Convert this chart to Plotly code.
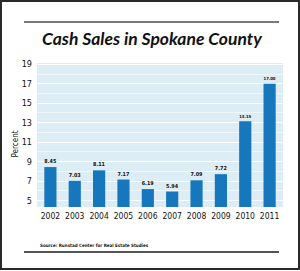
import plotly.graph_objects as go

years = ["2002", "2003", "2004", "2005", "2006", "2007", "2008", "2009", "2010", "2011"]
cash_pct = [8.45, 7.03, 8.11, 7.17, 6.19, 5.94, 7.09, 7.72, 13.15, 17.00]
y_ticks = [5, 7, 9, 11, 13, 15, 17, 19]

title = "Cash Sales in Spokane County"
source = "Source: Runstad Center for Real Estate Studies"

W, H = 300, 271
L, R, T, B = 37, 17, 63, 64
pw, ph = W - L - R, H - T - B

def px(x):
    return (x - L) / pw

def py(y):
    return (H - B - y) / ph

narrow = "DejaVu Sans Condensed, Liberation Sans Narrow, Arial Narrow, sans-serif"
ymin, ymax = 4.35, 19.13

fig = go.Figure(go.Bar(
    x=years, y=[v - ymin for v in cash_pct], base=ymin,
    marker=dict(color="#1677BD", line=dict(width=0)),
    width=0.5,
    text=[f"{v:.2f}" for v in cash_pct], textposition="outside",
    textfont=dict(family=narrow, size=6, color="#111", weight="bold"),
    cliponaxis=False,
))

fig.update_layout(
    width=W, height=H, margin=dict(l=L, r=R, t=T, b=B, pad=0),
    paper_bgcolor="white", plot_bgcolor="#DCEDF5",
    showlegend=False, bargap=0.5,
    xaxis=dict(type="category", range=[-0.55, 9.55], showgrid=False, zeroline=False,
               showline=False, ticks="", tickangle=0, ticklabelstandoff=2,
               tickfont=dict(family=narrow, size=8.5, color="#111")),
    yaxis=dict(range=[ymin, ymax], tickvals=y_ticks, ticktext=[str(t) for t in y_ticks],
               showgrid=True, gridcolor="white", gridwidth=1, zeroline=False, showline=False,
               ticks="", ticklabelstandoff=4,
               tickfont=dict(family=narrow, size=9, color="#111"),
               minor=dict(tickvals=[6, 8, 10, 12, 14, 16, 18], showgrid=True,
                          gridcolor="rgba(255,255,255,0.55)", gridwidth=1)),
    font=dict(family=narrow),
)

shapes = [
    dict(type="rect", xref="paper", yref="paper", x0=px(1), x1=px(299), y0=py(269), y1=py(1),
         line=dict(color="#2a2a2a", width=2), fillcolor="rgba(0,0,0,0)"),
    dict(type="line", xref="paper", yref="paper", x0=px(24), x1=px(279), y0=py(22), y1=py(22),
         line=dict(color="#7a7a7a", width=2)),
    dict(type="line", xref="paper", yref="paper", x0=px(24), x1=px(279), y0=py(252), y1=py(252),
         line=dict(color="#555555", width=2)),
]
fig.update_layout(shapes=shapes)

fig.add_annotation(text=title, xref="paper", yref="paper", x=px(152.5), y=py(39),
                   showarrow=False, xanchor="center", yanchor="middle",
                   font=dict(family="Lato, Open Sans, sans-serif", size=17.5, color="#111",
                             weight="bold", style="italic"))
fig.add_annotation(text="Percent", xref="paper", yref="paper", x=px(14.5), y=py(144),
                   showarrow=False, textangle=-90, xanchor="center", yanchor="middle",
                   font=dict(family=narrow, size=8, color="#111"))
fig.add_annotation(text=source, xref="paper", yref="paper", x=px(38), y=py(245),
                   showarrow=False, xanchor="left", yanchor="middle",
                   font=dict(family=narrow, size=4.5, color="#111", weight="bold"))

fig.write_html("out.html")
